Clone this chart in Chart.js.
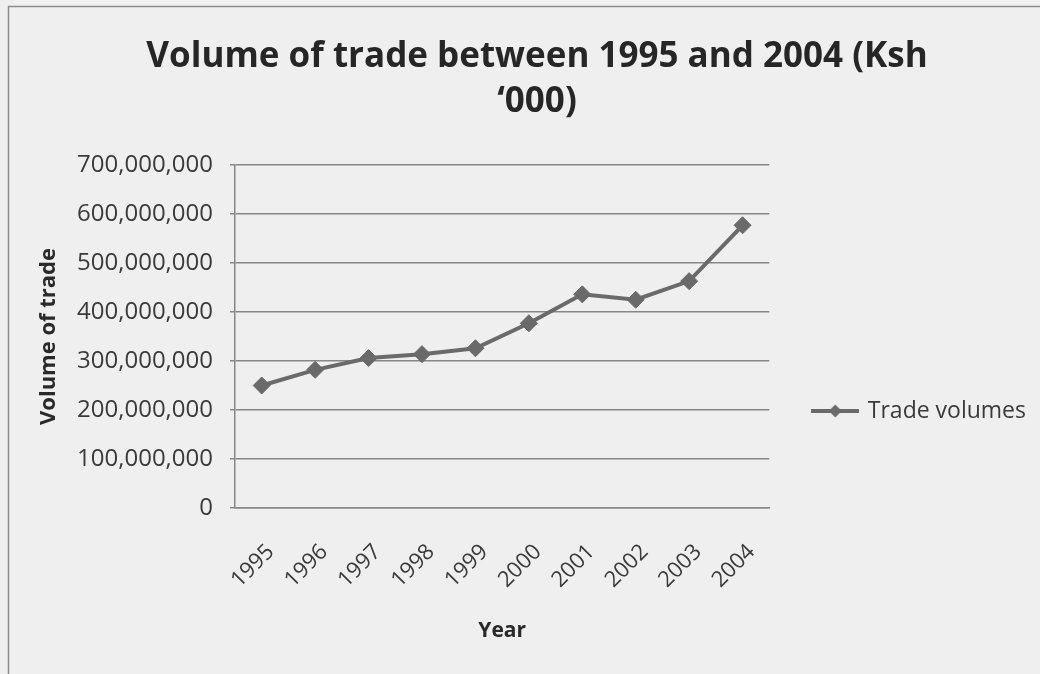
<!DOCTYPE html>
<html>
<head>
<meta charset="utf-8">
<script src="https://cdn.jsdelivr.net/npm/chart.js@4.4.1/dist/chart.umd.min.js"></script>
<style>
  html, body { margin: 0; padding: 0; background: #efefef; }
  #wrap { position: relative; width: 1040px; height: 674px; }
  canvas { display: block; }
</style>
</head>
<body>
<div id="wrap"><canvas id="c" width="1040" height="674"></canvas></div>
<script>
const years = ['1995', '1996', '1997', '1998', '1999', '2000', '2001', '2002', '2003', '2004'];
const tradeVolumes = [250000000, 282000000, 306000000, 314000000, 326000000, 377000000, 436000000, 425000000, 463000000, 577000000];
const seriesName = 'Trade volumes';
const chartTitle = ['Volume of trade between 1995 and 2004 (Ksh', '\u2018000)'];
const yAxisTitle = 'Volume of trade';
const xAxisTitle = 'Year';

const FONT = "'Open Sans', 'DejaVu Sans', sans-serif";
const TEXT = '#3a3a3a';
const GRID = '#878787';
const LINE = '#6a6a6a';

// legend symbol: line with a diamond (as in the original)
const legendSymbol = document.createElement('canvas');
legendSymbol.width = 48; legendSymbol.height = 16;
(function () {
  const g = legendSymbol.getContext('2d');
  g.strokeStyle = LINE; g.lineWidth = 4;
  g.beginPath(); g.moveTo(0, 8); g.lineTo(48, 8); g.stroke();
  g.fillStyle = LINE;
  g.beginPath(); g.moveTo(24, 1.5); g.lineTo(30.5, 8); g.lineTo(24, 14.5); g.lineTo(17.5, 8); g.closePath(); g.fill();
})();

const frame = {
  id: 'frame',
  beforeDraw(chart) {
    const ctx = chart.ctx;
    ctx.save();
    ctx.fillStyle = '#efefef';
    ctx.fillRect(0, 0, chart.width, chart.height);
    ctx.strokeStyle = '#8c8c8c';
    ctx.lineWidth = 1.5;
    ctx.beginPath();
    ctx.moveTo(8.5, chart.height);
    ctx.lineTo(8.5, 6.5);
    ctx.lineTo(chart.width, 6.5);
    ctx.stroke();
    ctx.restore();
  }
};

new Chart(document.getElementById('c'), {
  type: 'line',
  data: {
    labels: years,
    datasets: [{
      label: seriesName,
      data: tradeVolumes,
      borderColor: LINE,
      backgroundColor: LINE,
      pointBackgroundColor: LINE,
      pointBorderColor: LINE,
      borderWidth: 4,
      pointStyle: 'rectRot',
      pointRadius: 8.5,
      pointBorderWidth: 1,
      tension: 0
    }]
  },
  options: {
    responsive: false,
    animation: false,
    devicePixelRatio: 1,
    layout: { padding: { top: 0, left: 38, right: 4, bottom: 10 } },
    plugins: {
      tooltip: { enabled: false },
      title: {
        display: true,
        text: chartTitle,
        color: '#262626',
        font: { family: FONT, size: 35, weight: 'bold', lineHeight: 45 / 35 },
        padding: { top: 35, bottom: 40 }
      },
      legend: {
        display: true,
        position: 'right',
        align: 'center',
        maxWidth: 270,
        title: {
          display: true, text: ' ', color: 'rgba(0,0,0,0)',
          font: { size: 10, lineHeight: 1 },
          padding: { top: 148, bottom: 0 }
        },
        labels: {
          usePointStyle: true,
          pointStyle: legendSymbol,
          pointStyleWidth: 42,
          padding: 45,
          color: TEXT,
          font: { family: FONT, size: 23 }
        }
      }
    },
    scales: {
      x: {
        offset: true,
        grid: { display: true, drawOnChartArea: false, drawTicks: false, color: GRID },
        border: { display: true, color: GRID, width: 1.5 },
        ticks: {
          color: TEXT, font: { family: FONT, size: 22 },
          minRotation: 45, maxRotation: 45, padding: 31, autoSkip: false, labelOffset: 9
        },
        title: {
          display: true, text: xAxisTitle, color: '#2a2a2a',
          font: { family: FONT, size: 21, weight: 'bold', lineHeight: 1.2 },
          padding: { top: 0, bottom: 20 }
        },
        afterFit(scale) { scale.height = 674 - 508 - 10; }
      },
      y: {
        min: 0, max: 700000000,
        grid: { color: GRID, lineWidth: 1.5, tickLength: 5, drawTicks: true },
        border: { display: true, color: GRID, width: 1.5 },
        ticks: {
          stepSize: 100000000,
          color: TEXT, font: { family: FONT, size: 24 }, padding: 17,
          callback: (v) => Number(v).toLocaleString('en-US')
        },
        title: {
          display: true, text: yAxisTitle, color: '#2a2a2a',
          font: { family: FONT, size: 22, weight: 'bold', lineHeight: 1 },
          padding: { top: 0, bottom: 0 }
        },
        afterFit(scale) { scale.width = 235 - 38; }
      }
    }
  },
  plugins: [frame]
});
</script>
</body>
</html>
